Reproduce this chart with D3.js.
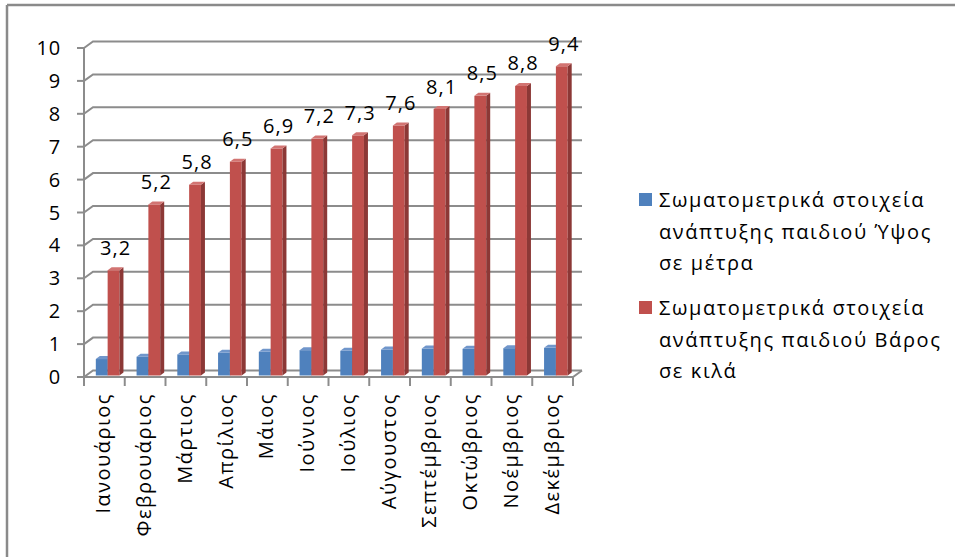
<!DOCTYPE html>
<html>
<head>
<meta charset="utf-8">
<script src="https://cdn.jsdelivr.net/npm/d3@7"></script>
<style>
  body { margin: 0; background: #fff; }
  text { font-family: "Open Sans", sans-serif; fill: #000; }
</style>
</head>
<body>
<svg id="canvas"></svg>
<script>
const months = ['Ιανουάριος', 'Φεβρουάριος', 'Μάρτιος', 'Απρίλιος', 'Μάιος', 'Ιούνιος',
  'Ιούλιος', 'Αύγουστος', 'Σεπτέμβριος', 'Οκτώβριος', 'Νοέμβριος', 'Δεκέμβριος'];
const heightValues = [0.5, 0.57, 0.64, 0.69, 0.72, 0.77, 0.75, 0.79, 0.82, 0.81, 0.83, 0.84];
const weightValues = [3.2, 5.2, 5.8, 6.5, 6.9, 7.2, 7.3, 7.6, 8.1, 8.5, 8.8, 9.4];
const yTicks = [0, 1, 2, 3, 4, 5, 6, 7, 8, 9, 10];
const seriesNames = [
  ['Σωματομετρικά στοιχεία', 'ανάπτυξης παιδιού Ύψος', 'σε μέτρα'],
  ['Σωματομετρικά στοιχεία', 'ανάπτυξης παιδιού Βάρος', 'σε κιλά']
];

const width = 955;
const height = 558;
const fontSize = 20;
// depth of the back wall
const dx = 9, dy = -6.5;
// depth of a single bar
const bdx = 4, bdy = -3;

const colors = [
  { front: '#4f81bd', side: '#385d8a', top: '#7096cb' },
  { front: '#c0504d', side: '#8c3836', top: '#d27472' }
];

const canvas = d3.select('#canvas').attr('width', width).attr('height', height);

// outer frame (only top and left visible)
canvas.append('line').attr('x1', 7).attr('y1', 5).attr('x2', width).attr('y2', 5)
  .attr('stroke', '#8a8a8a').attr('stroke-width', 2.5);
canvas.append('line').attr('x1', 7).attr('y1', 5).attr('x2', 7).attr('y2', 557)
  .attr('stroke', '#8a8a8a').attr('stroke-width', 2.5);

const x = d3.scaleBand().domain(months).range([84, 573]).padding(0);
const y = d3.scaleLinear().domain([0, 10]).range([377, 48]);
const bw = x.bandwidth();
const xEnd = 573;

const grid = canvas.append('g').attr('stroke', '#8c8c8c').attr('stroke-width', 2).attr('fill', 'none');

// back wall gridlines with the little diagonal from the front axis
grid.selectAll('path.gl')
  .data(yTicks)
  .enter()
  .append('path')
  .attr('class', 'gl')
  .attr('d', (t) => `M${84},${y(t)} L${84 + dx},${y(t) + dy} L${xEnd + dx},${y(t) + dy}`);

// floor right edge + front axis line
grid.append('path').attr('d', `M${xEnd + dx},${y(0) + dy} L${xEnd},${y(0)} L84,${y(0)}`);
// vertical axis
grid.append('line').attr('x1', 84).attr('y1', y(10)).attr('x2', 84).attr('y2', y(0));

// y ticks
grid.selectAll('line.yt')
  .data(yTicks)
  .enter()
  .append('line')
  .attr('class', 'yt')
  .attr('x1', 77).attr('x2', 84)
  .attr('y1', (t) => y(t)).attr('y2', (t) => y(t));

// x ticks
const xTickPos = months.map((m) => x(m)).concat([xEnd]);
grid.selectAll('line.xt')
  .data(xTickPos)
  .enter()
  .append('line')
  .attr('class', 'xt')
  .attr('x1', (p) => p).attr('x2', (p) => p)
  .attr('y1', y(0)).attr('y2', y(0) + 9);

canvas.selectAll('text.ytl')
  .data(yTicks)
  .enter()
  .append('text')
  .attr('class', 'ytl')
  .attr('x', 61)
  .attr('y', (t) => y(t))
  .attr('dy', '0.35em')
  .attr('text-anchor', 'end')
  .attr('font-size', fontSize)
  .attr('letter-spacing', 0.8)
  .text((t) => t);

// month labels, rotated
canvas.selectAll('text.mon')
  .data(months)
  .enter()
  .append('text')
  .attr('class', 'mon')
  .attr('transform', (m) => `translate(${x(m) + bw / 2 + 6},${393}) rotate(-90)`)
  .attr('text-anchor', 'end')
  .attr('font-size', fontSize)
  .attr('letter-spacing', 1.5)
  .text((m) => m);

// 3D bars
const drawBars = (values, idx) => {
  const c = colors[idx];
  const g = canvas.append('g');
  const base = y(0) - 1.5;
  months.forEach((m, i) => {
    const x0 = x(m) + bw * (0.29 + 0.29 * idx);
    const w = bw * 0.29;
    const top = y(values[i]) - 1.5;
    g.append('rect').attr('x', x0).attr('y', top).attr('width', w).attr('height', base - top)
      .attr('fill', c.front);
    g.append('path')
      .attr('d', `M${x0 + w},${top} L${x0 + w + bdx},${top + bdy} L${x0 + w + bdx},${base + bdy} L${x0 + w},${base}Z`)
      .attr('fill', c.side);
    g.append('path')
      .attr('d', `M${x0},${top} L${x0 + bdx},${top + bdy} L${x0 + w + bdx},${top + bdy} L${x0 + w},${top}Z`)
      .attr('fill', c.top);
  });
};
drawBars(heightValues, 0);
drawBars(weightValues, 1);

// value labels for weight series
canvas.selectAll('text.val')
  .data(weightValues)
  .enter()
  .append('text')
  .attr('class', 'val')
  .attr('x', (v, i) => x(months[i]) + bw * (0.58 + 0.145) + 2)
  .attr('y', (v) => y(v) - 17)
  .attr('text-anchor', 'middle')
  .attr('font-size', fontSize)
  .attr('letter-spacing', 1)
  .text((v) => String(v).replace('.', ','));

// legend
const legendTop = [200, 308];
seriesNames.forEach((lines, idx) => {
  canvas.append('rect')
    .attr('x', 639).attr('y', legendTop[idx] - 7)
    .attr('width', 13).attr('height', 13)
    .attr('fill', colors[idx].front);
  lines.forEach((ln, j) => {
    canvas.append('text')
      .attr('x', 659)
      .attr('y', legendTop[idx] + j * 31.5)
      .attr('dy', '0.35em')
      .attr('font-size', fontSize)
      .attr('letter-spacing', 1.6)
      .text(ln);
  });
});
</script>
</body>
</html>
